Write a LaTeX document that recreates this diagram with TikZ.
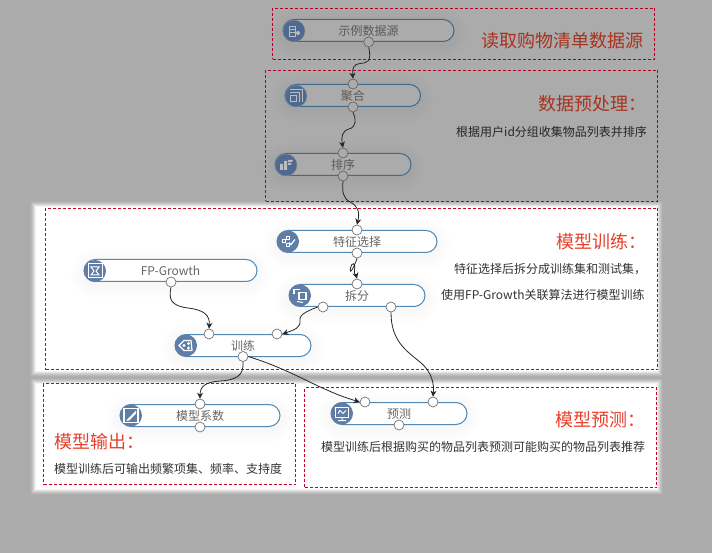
\documentclass[tikz,border=0pt]{standalone}
\usepackage{fontspec}
\setmainfont{Noto Sans CJK SC}
\usetikzlibrary{arrows.meta}
\definecolor{bgg}{HTML}{ABABAB}
\definecolor{redbox}{HTML}{C80028}
\definecolor{redboxd}{HTML}{B00024}
\definecolor{bdlit}{HTML}{5288B2}
\definecolor{bddim}{HTML}{3F6A8C}
\definecolor{iclit}{HTML}{5F7DA5}
\definecolor{icdim}{HTML}{4E6A90}
\definecolor{titlelit}{HTML}{E8402A}
\definecolor{titledim}{HTML}{A8321E}
\tikzset{
  x=1pt,y=-1pt,
  zonebox/.style={draw=redbox,line width=1pt,dash pattern=on 3pt off 2pt},
  zoneboxdim/.style={zonebox,draw=redboxd},
  ttl/.style={inner sep=0pt,anchor=west,font=\fontsize{18}{21}\selectfont},
  desc/.style={inner sep=0pt,font=\fontsize{12}{14}\selectfont,text=black!80},
  desclit/.style={desc,anchor=west},
  link/.style={draw=black!85,line width=0.8pt,-{Stealth[length=6pt,width=6pt]}},
  plink/.style={circle,inner sep=0pt,minimum size=10pt,line width=0.7pt,draw=black!55,fill=white},
  pdim/.style={plink,draw=black!60,fill=bgg},
  glyph/.style={draw=white,line width=1pt,fill=none},
  rowbox/.style={draw=bdlit,fill=white,rounded corners=11pt,line width=1pt,inner sep=0pt,text=black!60,font=\fontsize{12}{14}\selectfont},
  rowboxdim/.style={rowbox,draw=bddim,fill=bgg,text=black!65},
}
% #1 name, #2 x1, #3 y1, #4 x2, #5 y2, #6 text, #7 style
\newcommand{\wfnode}[7]{%
  \foreach \sw in {4,8,...,28}{\draw[black,opacity=0.005,line width=\sw pt,rounded corners=11pt] (#2,#3+3) rectangle (#4,#5+3);}
  \pgfmathsetmacro{\boxw}{#4-#2}\pgfmathsetmacro{\boxh}{#5-#3}
  \node[#7,minimum width=\boxw pt,minimum height=\boxh pt] (#1) at ({(#2+#4)/2},{(#3+#5)/2}) {#6};
}
\newcommand{\softzone}[4]{%
  \foreach \mm/\cc in {5/B0,4/B8,3/C4,2/D2,1/E2,0/F2}{%
    \definecolor{softc}{HTML}{\cc\cc\cc}%
    \fill[softc] (#1-\mm,#2-\mm) rectangle (#3+\mm,#4+\mm);}
  \fill[white] (#1+1,#2+1) rectangle (#3-1,#4-1);
}
\begin{document}
\begin{tikzpicture}
\useasboundingbox (0,0) rectangle (712,553);
\fill[bgg] (0,0) rectangle (712,553);
\softzone{35}{206}{658}{372}
\softzone{35}{383}{658}{490}
% dashed zones
\node[zoneboxdim,inner sep=0pt,minimum width=382pt,minimum height=51pt] (zone1) at (463.5,34) {};
\node[zoneboxdim,inner sep=0pt,minimum width=392pt,minimum height=131pt] (zone2) at (461.5,136) {};
\node[zonebox,inner sep=0pt,minimum width=612pt,minimum height=161pt] (zone3) at (351.5,289) {};
\node[zonebox,inner sep=0pt,minimum width=252pt,minimum height=101pt] (zone4) at (169.5,434) {};
\node[zonebox,inner sep=0pt,minimum width=352pt,minimum height=100pt] (zone5) at (480.5,437.5) {};
% nodes
\wfnode{n1}{283}{19.5}{454}{41.5}{示例数据源}{rowboxdim}
\wfnode{n2}{285}{84.5}{420.5}{106.5}{聚合}{rowboxdim}
\wfnode{n3}{275}{153.5}{411}{175.5}{排序}{rowboxdim}
\wfnode{n4}{277}{230.5}{437}{252.5}{特征选择}{rowbox}
\wfnode{n5}{84}{259.5}{257}{281.5}{FP-Growth}{rowbox}
\wfnode{n6}{289}{284.5}{425}{306.5}{拆分}{rowbox}
\wfnode{n7}{175}{334.5}{311}{356.5}{训练}{rowbox}
\wfnode{n8}{120}{404.5}{280}{426.5}{模型系数}{rowbox}
\wfnode{n9}{331}{402.5}{467}{424.5}{预测}{rowbox}
% ports
\node[pdim] (p1b) at (368.7,42) {};
\node[pdim] (p2t) at (353,84) {};
\node[pdim] (p2b) at (353,107) {};
\node[pdim] (p3t) at (343,153) {};
\node[pdim] (p3b) at (343,176) {};
\node[plink] (p4t) at (357,230) {};
\node[plink] (p4b) at (357,253) {};
\node[plink] (p5b) at (171,282) {};
\node[plink] (p6t) at (357,284) {};
\node[plink] (p6l) at (323,307) {};
\node[plink] (p6r) at (391,307) {};
\node[plink] (p7l) at (209,334) {};
\node[plink] (p7r) at (277,334) {};
\node[plink] (p7b) at (243,356.5) {};
\node[plink] (p8t) at (200,404) {};
\node[plink] (p8b) at (200,427) {};
\node[plink] (p9l) at (365,402) {};
\node[plink] (p9r) at (433,402) {};
\node[plink] (p9b) at (399,425) {};
% connectors
\draw[link] (p1b.south) .. controls (372,62) and (367,63) .. (360,63.5) .. controls (354,64) and (352,68) .. (p2t.north);
\draw[link] (p2b.south) .. controls (356,118) and (357,127) .. (349,129) .. controls (342,131) and (341,137) .. (p3t.north);
\draw[link] (p3b.south) .. controls (342,192) and (343,198) .. (350,202) .. controls (358,206) and (360,212) .. (p4t.north);
\draw[link] (p4b.south) .. controls (355,265) and (349,277) .. (350.5,268) .. controls (351.5,262) and (356,262) .. (354.5,270) .. controls (353.5,274) and (356,275) .. (p6t.north);
\draw[link] (p5b.south) .. controls (168,300) and (172,306) .. (188,308) .. controls (205,310) and (210,316) .. (p7l.north);
\draw[link] (p6l.west) .. controls (310,310) and (299,314) .. (300,320) .. controls (301,328) and (294,330) .. (p7r.east);
\draw[link] (p7b.south) .. controls (244,376) and (236,380) .. (220,381) .. controls (206,382) and (200,386) .. (p8t.north);
\draw[link] (p7b.east) .. controls (285,368) and (310,383) .. (327,390) .. controls (340,396) and (350,399) .. (p9l.west);
\draw[link] (p6r.south) .. controls (391,340) and (405,350) .. (420,362) .. controls (433,373) and (434,385) .. (p9r.north);
% icons
\fill[icdim,draw=black!45,line width=0.4pt] (294,31) circle (11);
\fill[icdim,draw=black!45,line width=0.4pt] (296,96) circle (11);
\fill[icdim,draw=black!45,line width=0.4pt] (286,165) circle (11);
\foreach \x/\y in {288/241.5,95/271,300/295.5,186/345.5,131/415.5,342/413.5}
  \fill[iclit] (\x,\y) circle (11);
% glyph: data source
\begin{scope}[shift={(294,31)}]
  \draw[glyph,draw=bgg!80!white,line width=0.8pt] (-5,-5) rectangle (1,5);
  \draw[draw=bgg!80!white,line width=0.8pt] (-5,-2) -- (1,-2) (-5,1) -- (1,1);
  \fill[bgg!80!white] (4,2) circle (2);
\end{scope}
% glyph: aggregate
\begin{scope}[shift={(296,96)}]
  \draw[glyph,draw=bgg!80!white] (-6,-6) -- (6,-6) -- (6,6) (-6,-3) -- (3,-3) -- (3,6) (-6,0) rectangle (0,6);
\end{scope}
% glyph: sort
\begin{scope}[shift={(286,165)}]
  \fill[bgg!80!white] (-6,-1) rectangle (-3,5) (-2,-4) rectangle (1,5) (2,-5) -- (7,-5) -- (6,-3) -- (2,-3) -- cycle (2,-2) -- (5.5,-2) -- (5,0) -- (2,0) -- cycle;
\end{scope}
% glyph: feature selection
\begin{scope}[shift={(288,241.5)}]
  \draw[glyph] (-2,-5) rectangle (1,-2) (-6,-1.5) rectangle (-3,1.5) (-2,2) rectangle (1,5);
  \draw[glyph,line width=1.2pt] (1,1) -- (3,3) -- (7,-2);
\end{scope}
% glyph: FP-Growth
\begin{scope}[shift={(95,271)}]
  \draw[glyph] (-7,-7) rectangle (7,7);
  \draw[glyph] (-4,-4) -- (4,-4) -- (1,0) -- (4,4) -- (-4,4) -- (-1,0) -- cycle;
\end{scope}
% glyph: split
\begin{scope}[shift={(300,295.5)}]
  \draw[glyph,line width=1.2pt] (-1,-3) rectangle (6,4);
  \draw[glyph,line width=1.2pt] (-6,-1) -- (-6,-6) -- (0,-6);
  \draw[glyph] (-3,6) -- (3,7);
\end{scope}
% glyph: train
\begin{scope}[shift={(186,345.5)}]
  \draw[glyph,line width=1.2pt] (-7,0) -- (-2,-5) -- (5,-5) -- (6,5) -- (-2,5) -- cycle;
  \fill[white] (-2,0) circle (1.6) (2.5,-2) circle (1.6) (2.5,2.5) circle (1.6);
\end{scope}
% glyph: coefficients
\begin{scope}[shift={(131,415.5)}]
  \draw[glyph,line width=1.2pt] (-7,-7) rectangle (7,7);
  \fill[white] (-5,5) -- (5,-5) -- (5,-2) -- (-2,5) -- cycle;
\end{scope}
% glyph: predict
\begin{scope}[shift={(342,413.5)}]
  \draw[glyph] (-6.5,-6) rectangle (6.5,4);
  \draw[glyph] (-4,0) -- (-2,-3) -- (1,0) -- (4,-3) (-4,7) -- (4,7) (0,4) -- (0,7);
\end{scope}
% texts
\node[ttl,text=titledim] (t1) at (481.5,41) {读取购物清单数据源};
\node[ttl,text=titledim] (t2) at (538,104) {数据预处理：};
\node[desclit,text=black!85] (d2) at (456,132) {根据用户id分组收集物品列表并排序};
\node[ttl,text=titlelit] (t3) at (556.5,241.5) {模型训练：};
\node[desclit] (d3a) at (454,269) {特征选择后拆分成训练集和测试集，};
\node[desclit] (d3b) at (441,295) {使用FP-Growth关联算法进行模型训练};
\node[ttl,text=titlelit] (t4) at (54,441.5) {模型输出：};
\node[desclit] (d4) at (54,469) {模型训练后可输出频繁项集、频率、支持度};
\node[ttl,text=titlelit] (t5) at (555.5,420) {模型预测：};
\node[desclit] (d5) at (321,447) {模型训练后根据购买的物品列表预测可能购买的物品列表推荐};
\end{tikzpicture}
\end{document}
